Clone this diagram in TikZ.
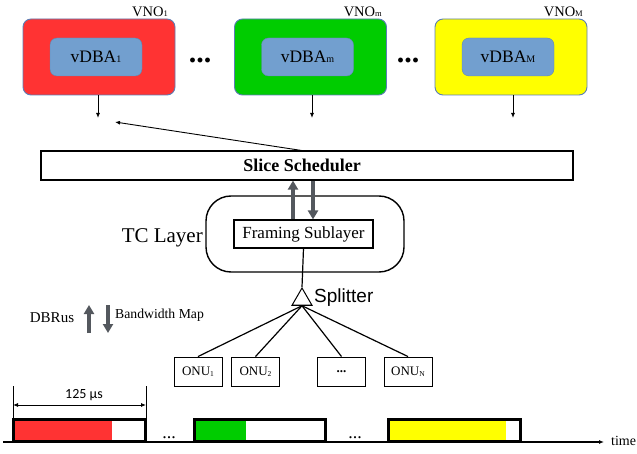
\documentclass[tikz,border=0pt]{standalone}
\usepackage{fontspec}
\setmainfont{Liberation Serif}
\newfontfamily\splsans{Liberation Sans}
\newfontfamily\carlito{Carlito}
\usetikzlibrary{arrows.meta,shapes.geometric,calc}
\newcommand{\fs}[1]{\fontsize{#1}{#1}\selectfont}
\newcommand{\lsub}[2]{\raisebox{-0.4pt}{\fs{#1}#2}}
\definecolor{vnored}{HTML}{FF3333}
\definecolor{vnogreen}{HTML}{00CC00}
\definecolor{vnoyellow}{HTML}{FFFF00}
\definecolor{vdbablue}{HTML}{729FCF}
\definecolor{vnoedge}{HTML}{5B7DB5}
\definecolor{garrow}{HTML}{54585E}
\begin{document}
\begin{tikzpicture}[x=1pt,y=-1pt,
  vno/.style={draw=vnoedge,line width=0.9pt,rounded corners=8pt,minimum width=152pt,minimum height=76pt,inner sep=0pt},
  vdba/.style={fill=vdbablue,draw=vdbablue!85!black,line width=0.4pt,rounded corners=7pt,minimum width=92pt,minimum height=38pt,inner sep=0pt,font=\fs{17.5}},
  vnolbl/.style={font=\fs{14.5},anchor=east,inner sep=0pt},
  bigdots/.style={font=\bfseries\fs{30},inner sep=0pt},
  thinarrow/.style={line width=0.9pt,-{Latex[length=5pt,width=4pt]}},
  grayarrow/.style={draw=garrow,line width=3.5pt,-{Triangle[length=9pt,width=10pt]}},
  plainbox/.style={draw,line width=0.9pt,inner sep=0pt},
  onu/.style={plainbox,minimum width=48pt,minimum height=29pt,font=\fs{13}},
  bar/.style={draw,line width=3pt},
  link/.style={line width=1.2pt}
]
\useasboundingbox (0,0) rectangle (637,454);

% VNO boxes
\node[vno,fill=vnored] (vno1) at (99,57) {};
\node[vno,fill=vnogreen] (vnom) at (310.5,57) {};
\node[vno,fill=vnoyellow] (vnoM) at (511,57) {};
\node[vdba] (vdba1) at (96,57) {vDBA\lsub{10}{1}};
\node[vdba] (vdbam) at (307.5,57) {vDBA\lsub{10}{m}};
\node[vdba] (vdbaM) at (508,57) {vDBA\lsub{10}{M}};
\node[vnolbl] (l1) at (168,12) {VNO\lsub{8.5}{1}};
\node[vnolbl] (lm) at (382,12) {VNO\lsub{8.5}{m}};
\node[vnolbl] (lM) at (583,12) {VNO\lsub{8.5}{M}};
\node[bigdots] (d1) at (200,60) {...};
\node[bigdots] (d2) at (408,60) {...};

\coordinate (e1) at (98,118);
\coordinate (em) at (312,118);
\coordinate (eM) at (513,118);
\draw[thinarrow] (vno1.south -| e1) -- (e1);
\draw[thinarrow] (vnom.south -| em) -- (em);
\draw[thinarrow] (vnoM.south -| eM) -- (eM);

% scheduler
\node[draw,line width=1.2pt,minimum width=532pt,minimum height=29pt,inner sep=0pt,font=\bfseries\fs{18}] (sched) at (307,165.5) {\hspace*{-10pt}Slice Scheduler};
\coordinate (s0) at (305,151);
\coordinate (t1) at (115,122);
\draw[thinarrow] (s0) -- (t1);

% TC layer
\node[draw,line width=1.4pt,rounded corners=25pt,minimum width=198pt,minimum height=76pt,inner sep=0pt] (tc) at (305,234) {};
\node[plainbox,line width=1.1pt,minimum width=139pt,minimum height=28pt,font=\fs{17}] (fr) at (303.5,234) {Framing Sublayer};
\node[font=\fs{21},anchor=east,inner sep=0pt] (tcl) at (203,238) {TC Layer};
\coordinate (ux) at (293,0);
\coordinate (dx) at (313,0);
\draw[grayarrow] (fr.north -| ux) -- (sched.south -| ux);
\draw[grayarrow] (sched.south -| dx) -- (fr.north -| dx);

% splitter
\node[draw,line width=1pt,regular polygon,regular polygon sides=3,minimum size=23pt,inner sep=0pt] (spl) at (302,299.5) {};
\draw[link] (fr.south) -- (spl.corner 1);
\node[font=\splsans\fs{19},anchor=west,inner sep=0pt] (spll) at (314,298) {Splitter};

% ONUs
\node[onu] (onu1) at (198,371.5) {ONU\lsub{7.5}{1}};
\node[onu] (onu2) at (255.5,371.5) {ONU\lsub{7.5}{2}};
\node[onu,font=\bfseries\fs{13}] (onud) at (341.5,371.5) {...};
\node[onu] (onuN) at (408,371.5) {ONU\lsub{7.5}{N}};
\foreach \o in {onu1,onu2,onud,onuN} \draw[link] (spl.side 2) -- (\o.north);

% legend
\node[font=\fs{15},inner sep=0pt] (dbr) at (52,318) {DBRus};
\node[font=\fs{13.7},anchor=west,inner sep=0pt] (bwm) at (115,315) {Bandwidth Map};
\coordinate (ua0) at (89,333);
\coordinate (ua1) at (89,305);
\coordinate (da0) at (108,305);
\coordinate (da1) at (108,333);
\draw[grayarrow] (ua0) -- (ua1);
\draw[grayarrow] (da0) -- (da1);

% timeline
\coordinate (ax0) at (3,442);
\coordinate (ax1) at (604,442);
\draw[line width=1.1pt,-{Latex[length=5pt,width=4pt]}] (ax0) -- (ax1);
\node[font=\fs{14},anchor=west,inner sep=0pt] (timel) at (611,441) {time};

\fill[vnored] (15,421) rectangle (112,440);
\draw[vnoedge,line width=0.6pt] (112,421) -- (112,440);
\fill[white] (112.3,421) rectangle (144,440);
\draw[bar] (13.5,419.5) rectangle (145.5,441.5);

\fill[vnogreen] (196,421) rectangle (246,440);
\draw[vnoedge,line width=0.6pt] (246,421) -- (246,440);
\fill[white] (246.3,421) rectangle (324,440);
\draw[bar] (194.5,419.5) rectangle (325.5,441.5);

\fill[vnoyellow] (390,421) rectangle (506,440);
\draw[vnoedge,line width=0.6pt] (506,421) -- (506,440);
\fill[white] (506.3,421) rectangle (519,440);
\draw[bar] (388.5,419.5) rectangle (520.5,441.5);

\node[font=\fs{18},inner sep=0pt,anchor=base] (bd1) at (169,438) {...};
\node[font=\fs{18},inner sep=0pt,anchor=base] (bd2) at (355,438) {...};

% dimension
\coordinate (k0) at (13,386);
\coordinate (k1) at (146,386);
\draw[line width=0.7pt] (k0) -- (13,418);
\draw[line width=0.7pt] (k1) -- (146,418);
\draw[line width=0.8pt,{Latex[length=5pt,width=4pt]}-{Latex[length=5pt,width=4pt]}] (13,405) -- (146,405);
\node[font=\carlito\fs{14},inner sep=0pt] (dim) at (84,395) {125 μs};
\end{tikzpicture}
\end{document}
